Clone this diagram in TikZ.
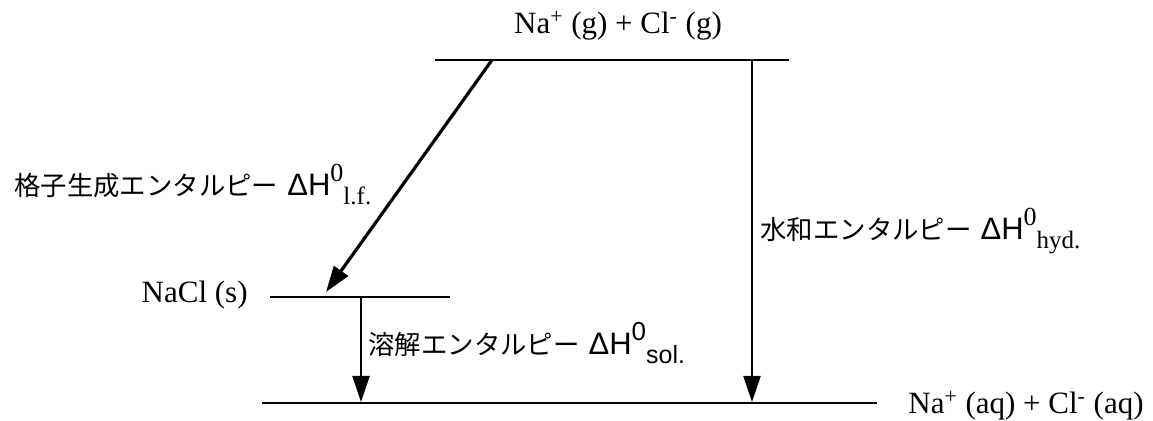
\documentclass[tikz,border=0pt]{standalone}
\usepackage{fontspec}
\setmainfont{Liberation Serif}
\newfontfamily\jpfont{Noto Sans CJK JP}
\newfontfamily\grsans{Liberation Sans}
\usetikzlibrary{positioning,arrows.meta,calc}
\usepackage{xcolor}
\definecolor{enthInk}{RGB}{0,0,0}
\definecolor{enthBg}{RGB}{255,255,255}
\newcommand{\jtxt}[1]{{\jpfont\fontsize{13.2}{15}\selectfont #1}}
\newcommand{\dH}{{\grsans\fontsize{15.5}{17}\selectfont ΔH}}
\newcommand{\supz}[1]{\raisebox{7pt}{\fontsize{13}{14}\selectfont #1}}
\newcommand{\subx}[1]{\raisebox{-4.5pt}{\fontsize{12.5}{14}\selectfont #1}}

\begin{document}
\begin{tikzpicture}[x=0.5pt, y=-0.5pt,
    level/.style={draw=enthInk, line width=1.3pt},
    enth/.style={draw=enthInk, line width=1.1pt, -{Triangle[length=13pt, width=8.5pt]}},
    species/.style={inner sep=0pt, font=\fontsize{15.5}{18}\selectfont},
    elabel/.style={inner sep=0pt, anchor=base west}]
    \useasboundingbox[fill=enthBg] (0,0) rectangle (1153,421);

    % energy levels
    \coordinate (gasL) at (435,60);
    \coordinate (gasR) at (789,60);
    \coordinate (solidL) at (270,297);
    \coordinate (solidR) at (450,297);
    \coordinate (aqL) at (262,403);
    \coordinate (aqR) at (877,403);
    \draw[level] (gasL) -- (gasR);
    \draw[level] (solidL) -- (solidR);
    \draw[level] (aqL) -- (aqR);

    % species
    \node[species, anchor=base] (gas) at (618,34) {Na\textsuperscript{+} (g) + Cl\textsuperscript{-} (g)};
    \node[species, anchor=base east] (solid) at (248,303) {NaCl (s)};
    \node[species, anchor=base west] (aq) at (908,414) {Na\textsuperscript{+} (aq) + Cl\textsuperscript{-} (aq)};

    % arrows
    \coordinate (latTop) at (492,60);
    \coordinate (latEnd) at (326,292);
    \coordinate (hydTop) at (752,60);
    \coordinate (hydEnd) at (752,402);
    \coordinate (solTop) at (361,297);
    \coordinate (solEnd) at (361,402);
    \draw[enth, line width=1.6pt] (latTop) -- (latEnd);
    \draw[enth] (hydTop) -- (hydEnd);
    \draw[enth] (solTop) -- (solEnd);

    % labels
    \node[elabel] (latLabel) at (14,196) {\jtxt{格子生成エンタルピー}\hspace{4.5pt}\dH\supz{0}\subx{l.f.}};
    \node[elabel] (hydLabel) at (760,240) {\jtxt{水和エンタルピー}\hspace{4.5pt}\dH\supz{0}\subx{hyd.}};
    \node[elabel] (solLabel) at (368,355) {\jtxt{溶解エンタルピー}\hspace{4.5pt}\dH\supz{\grsans 0}\subx{\grsans sol.}};
  \end{tikzpicture}
\end{document}
